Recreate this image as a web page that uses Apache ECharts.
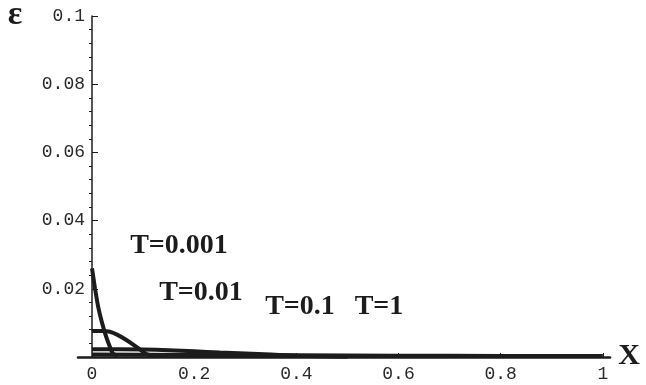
<!DOCTYPE html>
<html>
<head>
<meta charset="utf-8">
<script src="https://cdn.jsdelivr.net/npm/echarts@6/dist/echarts.min.js"></script>
<style>
html,body{margin:0;padding:0;background:#fff;}
#main{width:646px;height:385px;}
</style>
</head>
<body>
<div id="main"></div>
<script>
// values
var xTicks = [0, 0.2, 0.4, 0.6, 0.8, 1];
var yTicks = [0, 0.02, 0.04, 0.06, 0.08, 0.1];

var curveT0001 = [[0,0.026],[0.003,0.023],[0.006,0.02],[0.012,0.0148],[0.02,0.0098],[0.028,0.0058],[0.035,0.003],[0.041,0.001],[0.05,0.0004]];
var curveT001 = [[0,0.0076],[0.02,0.0076],[0.035,0.0074],[0.05,0.0065],[0.065,0.0052],[0.08,0.0037],[0.095,0.0021],[0.108,0.0008],[0.125,0.0004],[0.15,0.0003]];
var curveT01 = [[0,0.0023],[0.1,0.0022],[0.15,0.002],[0.2,0.0017],[0.25,0.0013],[0.3,0.001],[0.35,0.0007],[0.4,0.0004],[0.45,0.0002],[0.5,0.0001]];
var curveT1 = [[0,0.0007],[0.2,0.0006],[0.4,0.0005],[0.6,0.0004],[0.8,0.0003],[1,0.0003]];

var curveLabels = [
  {text: 'T=0.001', x: 179, y: 246},
  {text: 'T=0.01', x: 201, y: 293},
  {text: 'T=0.1', x: 300, y: 307},
  {text: 'T=1', x: 379, y: 307}
];

var inkColor = '#1c1c1c';
var labelFont = '"Liberation Mono", "DejaVu Sans Mono", monospace';

function curve(data){
  return {
    type: 'line',
    data: data,
    smooth: 0.2,
    showSymbol: false,
    silent: true,
    lineStyle: {color: inkColor, width: 4}
  };
}

var myChart = echarts.init(document.getElementById('main'));

var graphicList = [];
curveLabels.forEach(function(l){
  graphicList.push({
    type: 'text', x: l.x, y: l.y,
    style: {text: l.text, font: 'bold 28px "Liberation Serif", serif', fill: inkColor, align: 'center', verticalAlign: 'middle'}
  });
});
graphicList.push({
  type: 'text', x: 15, y: 15,
  style: {text: 'ε', font: 'bold 34px "Liberation Serif", serif', fill: inkColor, align: 'center', verticalAlign: 'middle'}
});
graphicList.push({
  type: 'text', x: 629, y: 356,
  style: {text: 'X', font: 'bold 30px "Liberation Serif", serif', fill: inkColor, align: 'center', verticalAlign: 'middle'}
});

var option = {
  backgroundColor: '#fff',
  animation: false,
  grid: [
    {left: 92, right: 36, top: 16, bottom: 28},
    {left: 78, right: 36, top: 16, bottom: 28}
  ],
  xAxis: [{
    type: 'value', gridIndex: 0,
    min: xTicks[0], max: 1.014, interval: 0.2,
    axisLine: {show: false},
    axisTick: {show: true, inside: true, length: 4, lineStyle: {color: inkColor, width: 1}},
    splitLine: {show: false},
    axisLabel: {
      showMaxLabel: false, margin: 8,
      fontFamily: labelFont, fontSize: 18, color: '#2a2a2a',
      formatter: function(v){ return xTicks.indexOf(Math.round(v*10)/10) >= 0 ? String(Math.round(v*10)/10) : ''; }
    }
  }, {
    // axis line only, runs a bit left of x=0 like the original plot
    type: 'value', gridIndex: 1, min: 0, max: 1,
    axisLine: {show: true, onZero: false, lineStyle: {color: inkColor, width: 2.5}},
    axisTick: {show: false}, axisLabel: {show: false}, splitLine: {show: false}
  }],
  yAxis: [{
    type: 'value', gridIndex: 0,
    min: yTicks[0], max: yTicks[yTicks.length-1], interval: 0.02,
    axisLine: {show: true, onZero: false, lineStyle: {color: inkColor, width: 1.5}},
    axisTick: {show: true, inside: true, length: 6, lineStyle: {color: inkColor, width: 1}},
    // negative length so the minor ticks point into the plot too
    minorTick: {show: true, splitNumber: 5, length: -3, lineStyle: {color: inkColor, width: 1}},
    splitLine: {show: false},
    axisLabel: {
      showMinLabel: false, margin: 7,
      fontFamily: labelFont, fontSize: 18, color: '#2a2a2a',
      formatter: function(v){ return String(Math.round(v*100)/100); }
    }
  }, {
    type: 'value', gridIndex: 1, min: 0, max: 1, show: false
  }],
  graphic: graphicList,
  series: [curve(curveT0001), curve(curveT001), curve(curveT01), curve(curveT1)]
};

myChart.setOption(option);
</script>
</body>
</html>
